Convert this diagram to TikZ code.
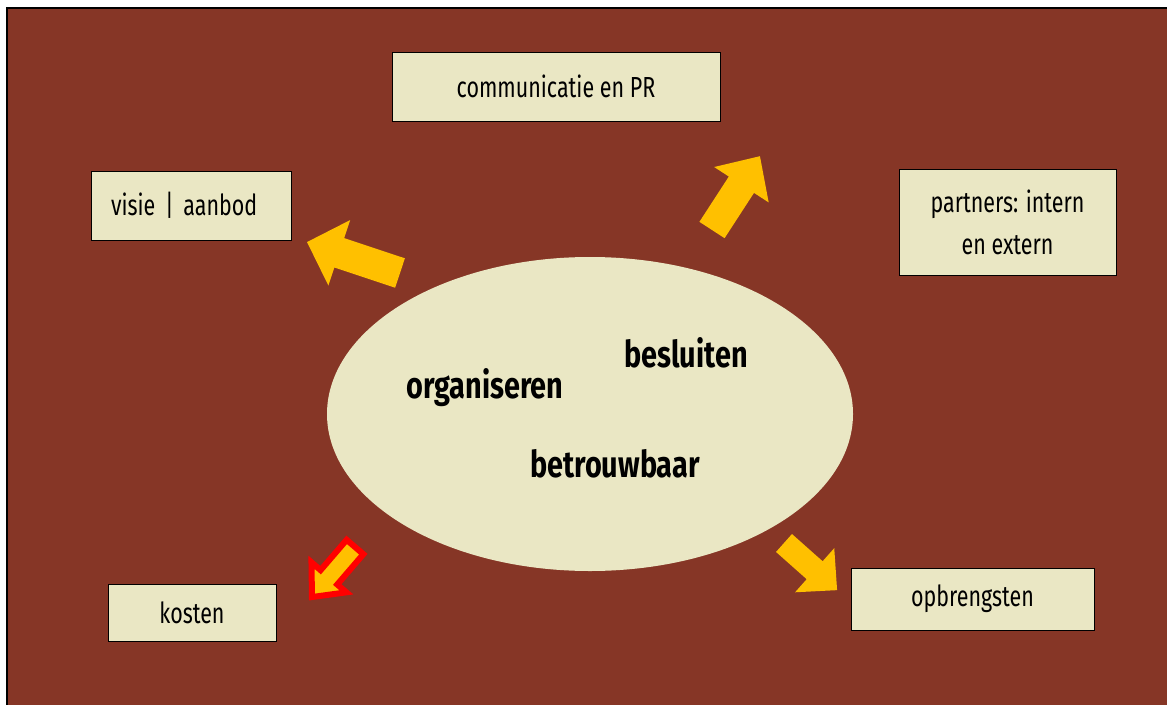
\documentclass[tikz,border=0pt]{standalone}
\usepackage{fontspec}
\usetikzlibrary{shapes.geometric}
\newfontfamily\boxfont[FakeStretch=0.74]{Fira Sans}
\newfontfamily\corefont[FakeStretch=0.78]{Fira Sans}
\definecolor{bgbrown}{RGB}{134,54,38}
\definecolor{cream}{RGB}{234,231,196}
\definecolor{arrowyellow}{RGB}{255,192,0}
\tikzset{topic/.style={draw=black,line width=1pt,fill=cream,inner sep=0pt,font=\boxfont\fontsize{29}{42}\selectfont},
  core/.style={anchor=base,inner sep=0pt,font=\corefont\bfseries\fontsize{37}{40}\selectfont},
  blockfill/.style={fill=arrowyellow},
  costfill/.style={fill=arrowyellow,draw=red,line width=6pt,line join=miter}}
% block arrow: [style]{tail}{angle}{length}{head length}{head width}{shaft width}
\newcommand{\blockarrow}[7][blockfill]{%
  \path[#1,shift={(#2)},rotate=#3] (0,-#7/2) -- (#4-#5,-#7/2) -- (#4-#5,-#6/2) -- (#4,0)
    -- (#4-#5,#6/2) -- (#4-#5,#7/2) -- (0,#7/2) -- cycle;}

\begin{document}
\begin{tikzpicture}[x=1pt,y=-1pt]
\path[use as bounding box] (0,0) rectangle (1167,704);
\draw[fill=bgbrown,line width=2pt] (7,8) rectangle (1175,712);
% centre
\node[ellipse,fill=cream,inner sep=0pt,minimum width=526,minimum height=314] (kern) at (590,414) {};
\node[core] (besluiten) at (686,367) {besluiten};
\node[core] (organiseren) at (485,398) {organiseren};
\node[core] (betrouwbaar) at (615,477) {betrouwbaar};
% topics
\node[topic,minimum width=328,minimum height=69] (communicatie) at (556,86.5) {communicatie en PR};
\node[topic,minimum width=200,minimum height=69,text width=160,inner xsep=20pt,align=left] (visie) at (191,205.5) {visie | aanbod};
\node[topic,minimum width=217,minimum height=106,align=center] (partners) at (1007.5,222) {partners: intern\\en extern};
\node[topic,minimum width=168,minimum height=57] (kosten) at (192,612.5) {kosten};
\node[topic,minimum width=243,minimum height=62] (opbrengsten) at (972.5,599) {opbrengsten};
% arrows
\blockarrow{400,273}{161.6}{98}{34}{69}{31}
\blockarrow{712,230}{57}{88}{34}{65}{30}
\blockarrow{784,543}{-41.6}{71}{30}{59}{24}
\blockarrow[costfill]{355,547}{229.3}{66}{26}{46}{22}
\end{tikzpicture}
\end{document}
